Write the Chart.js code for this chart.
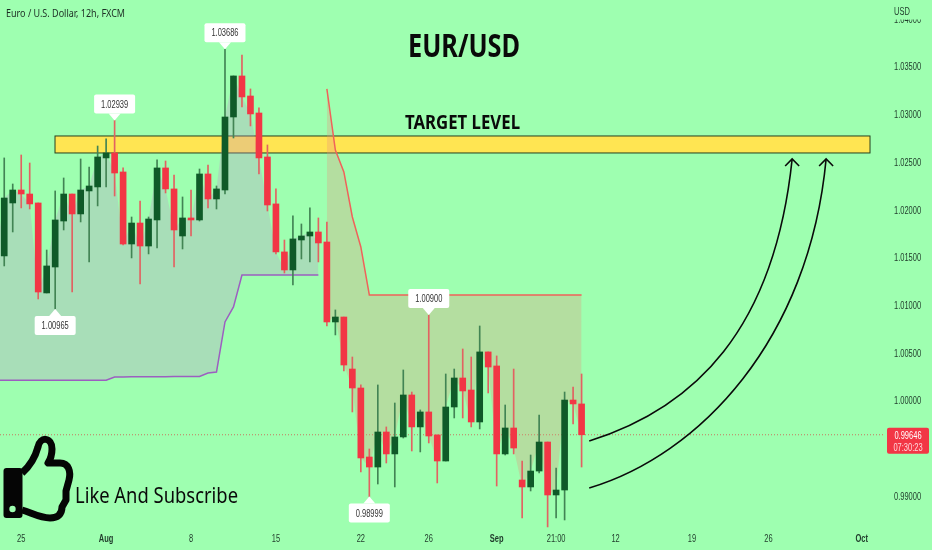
<!DOCTYPE html>
<html>
<head>
<meta charset="utf-8">
<title>EUR/USD</title>
<script src="https://cdn.jsdelivr.net/npm/chart.js@4/dist/chart.umd.min.js"></script>
<style>
  html, body { margin: 0; padding: 0; background: #9effb0; }
  canvas { display: block; }
</style>
</head>
<body>
<canvas id="chart" width="932" height="550"></canvas>
<script>
// candle values, 12h bars. The first bar is just off the left edge.
const opens = [1.02050,1.01520,1.02075,1.02211,1.02169,1.02075,1.01132,1.01404,1.01886,1.02169,1.01960,1.02201,1.02243,1.02547,1.02599,1.02400,1.01645,1.01865,1.01624,1.01897,1.02442,1.02222,1.01729,1.01918,1.01897,1.02379,1.02117,1.02211,1.02976,1.03406,1.03196,1.03018,1.02557,1.02065,1.01562,1.01373,1.01687,1.01729,1.01771,1.01666,1.00828,1.00880,1.00335,1.00136,0.99413,0.99308,0.99675,0.99445,0.99623,1.00063,0.99728,0.99885,0.99644,0.99371,0.99937,1.00241,1.00115,0.99780,1.00514,1.00367,0.99445,0.99717,0.99172,0.99099,0.99266,0.99570,0.99015,0.99067,1.00010,0.99969];
const highs = [1.02100,1.02547,1.02274,1.02578,1.02494,1.02075,1.01582,1.02201,1.02337,1.02169,1.02536,1.02452,1.02672,1.02746,1.02939,1.02442,1.01928,1.02096,1.01928,1.02526,1.02515,1.02368,1.02138,1.02211,1.02431,1.02473,1.02253,1.03686,1.03406,1.03626,1.03270,1.03071,1.02683,1.02222,1.01687,1.01939,1.01855,1.02023,1.01918,1.01876,1.00954,1.00880,1.00461,1.00168,0.99497,1.00168,0.99728,0.99979,1.00325,1.00094,0.99906,1.00900,0.99644,1.00283,1.00335,1.00545,1.00461,1.00786,1.00514,1.00472,0.99958,1.00335,0.99371,0.99434,0.99853,0.99570,0.99298,1.00094,1.00147,1.00283];
const lows = [1.01450,1.01415,1.01771,1.02023,1.02012,1.01069,1.01132,1.00965,1.01792,1.01142,1.01876,1.01457,1.02044,1.02243,1.02148,1.01635,1.01499,1.01226,1.01541,1.01603,1.02180,1.01404,1.01593,1.01729,1.01886,1.02023,1.02012,1.02169,1.02756,1.03081,1.02882,1.02379,1.01991,1.01541,1.01341,1.01216,1.01488,1.01457,1.01457,1.00786,1.00692,1.00314,0.99885,0.99256,0.98999,0.99130,0.99350,0.99099,0.99612,0.99476,0.99466,0.99560,0.99141,0.99371,0.99822,0.99822,0.99728,0.99707,1.00084,0.99109,0.99434,0.99445,0.98774,0.99057,0.99245,0.98680,0.98774,0.98753,0.99759,0.99308];
const closes = [1.01520,1.02127,1.02211,1.02169,1.02065,1.01142,1.01415,1.01897,1.02169,1.01960,1.02211,1.02253,1.02557,1.02599,1.02389,1.01645,1.01865,1.01624,1.01907,1.02442,1.02222,1.01792,1.01918,1.01897,1.02379,1.02117,1.02222,1.02976,1.03406,1.03186,1.03008,1.02547,1.02054,1.01562,1.01373,1.01698,1.01729,1.01771,1.01656,1.00828,1.00880,1.00377,1.00136,0.99403,0.99308,0.99675,0.99445,0.99623,1.00063,0.99728,0.99885,0.99633,0.99371,0.99937,1.00241,1.00105,0.99780,1.00514,1.00356,0.99445,0.99717,0.99507,0.99099,0.99266,0.99570,0.99015,0.99067,1.00010,0.99969,0.99646];

// indicator lines, each starts at the bar given by its start index
const purpleLine = [1.00217,1.00217,1.00217,1.00217,1.00217,1.00217,1.00217,1.00217,1.00217,1.00217,1.00217,1.00217,1.00217,1.00217,1.00252,1.00252,1.00253,1.00253,1.00254,1.00255,1.00255,1.00256,1.00256,1.00257,1.00257,1.00293,1.00304,1.00828,1.00985,1.01320,1.01320,1.01320,1.01320,1.01320,1.01320,1.01320,1.01320,1.01320,1.01320];
const redLineStart = 39;
const redLine = [1.03270,1.02630,1.02400,1.01928,1.01614,1.01111,1.01111,1.01111,1.01111,1.01111,1.01111,1.01111,1.01111,1.01111,1.01111,1.01111,1.01111,1.01111,1.01111,1.01111,1.01111,1.01111,1.01111,1.01111,1.01111,1.01111,1.01111,1.01111,1.01111,1.01111,1.01111];

// x axis: one slot per bar, including the empty ones to the right
const slotCount = 105;
const xTickIndex = [3, 13, 23, 33, 43, 51, 59, 66, 73, 82, 91, 102];
const xTickText = ['25', 'Aug', '8', '15', '22', '26', 'Sep', '21:00', '12', '19', '26', 'Oct'];
const boldTicks = ['Aug', 'Sep', 'Oct'];
const priceTicks = [0.99, 0.995, 1.0, 1.005, 1.01, 1.015, 1.02, 1.025, 1.03, 1.035, 1.04];

const lastPrice = 0.99646;
const countdown = '07:30:23';

// target zone
const zoneTop = 1.02777;
const zoneBottom = 1.02599;
const zoneFrom = 6.98;
const zoneTo = 102.97;

// high/low callouts: bar index, price, above (1) or below (-1) the wick
const calloutBars = [27, 14, 7, 51, 44];
const calloutPrices = [1.03686, 1.02939, 1.00965, 1.00900, 0.98999];
const calloutSides = [1, 1, -1, 1, -1];

// arrows as cubic curves, bar index / price
const arrowOneX = [69.9, 82.3, 91.7, 93.8];
const arrowOneY = [0.99581, 0.99927, 1.00744, 1.02536];
const arrowTwoX = [69.9, 82.9, 95.8, 97.8];
const arrowTwoY = [0.99088, 0.99434, 1.00639, 1.02536];

const BG = '#9effb0';
const RED = '#f23645';
const GREEN = '#0f5a28';
const AXIS_FONT = '"Liberation Sans", sans-serif';
const AXIS_COLOR = '#1f3a2a';
const SQUEEZE = 0.75; // the reference axis type is narrower than anything installed

const labels = [];
for (let i = 0; i < slotCount; i++) {
  const at = xTickIndex.indexOf(i);
  labels.push(at >= 0 ? xTickText[at] : '');
}

const isUp = closes.map((c, i) => c >= opens[i]);
const closesLeft = closes.slice(0, purpleLine.length);
const closesRight = closes.map((c, i) => (i >= redLineStart ? c : null));
const redData = closes.map((c, i) => (i >= redLineStart ? redLine[i - redLineStart] : null));

function text(ctx, str, x, y, font, color, maxWidth, align) {
  ctx.font = font;
  ctx.fillStyle = color;
  ctx.textAlign = align || 'left';
  ctx.textBaseline = 'alphabetic';
  ctx.fillText(str, x, y, maxWidth);
}

function narrowText(ctx, str, x, y, font, color, align) {
  ctx.font = font;
  text(ctx, str, x, y, font, color, ctx.measureText(str).width * SQUEEZE, align);
}

function drawAxisLabels(ctx, sx, sy) {
  priceTicks.forEach(v => {
    narrowText(ctx, v.toFixed(5), 894, sy.getPixelForValue(v) + 3.5, '10px ' + AXIS_FONT, AXIS_COLOR);
  });
  xTickIndex.forEach((idx, i) => {
    const weight = boldTicks.includes(xTickText[i]) ? 'bold ' : '';
    narrowText(ctx, xTickText[i], sx.getPixelForValue(idx), 542, weight + '10px ' + AXIS_FONT, AXIS_COLOR, 'center');
  });
}

function drawArrow(ctx, xs, ys, sx, sy) {
  const px = xs.map(v => sx.getPixelForValue(v));
  const py = ys.map(v => sy.getPixelForValue(v));
  ctx.strokeStyle = '#0a0a0a';
  ctx.lineWidth = 1.6;
  ctx.beginPath();
  ctx.moveTo(px[0], py[0]);
  ctx.bezierCurveTo(px[1], py[1], px[2], py[2], px[3], py[3]);
  ctx.stroke();
  ctx.beginPath();
  ctx.moveTo(px[3] - 7, py[3] + 7);
  ctx.lineTo(px[3], py[3]);
  ctx.lineTo(px[3] + 7, py[3] + 7);
  ctx.stroke();
}

function drawCallout(ctx, x, y, side, value) {
  const w = 41, h = 19, gap = 7;
  const top = side > 0 ? y - gap - h : y + gap;
  const edge = side > 0 ? top + h : top;
  ctx.fillStyle = '#ffffff';
  ctx.beginPath();
  ctx.roundRect(x - w / 2, top, w, h, 2);
  ctx.fill();
  ctx.beginPath();
  ctx.moveTo(x - 6, edge);
  ctx.lineTo(x, y);
  ctx.lineTo(x + 6, edge);
  ctx.fill();
  narrowText(ctx, value.toFixed(5), x, top + 13, '10px ' + AXIS_FONT, '#333333', 'center');
}

function drawThumb(ctx) {
  ctx.fillStyle = '#050505';
  ctx.beginPath();
  ctx.roundRect(3.5, 468, 19, 50, 3);
  ctx.fill();
  ctx.fillStyle = BG;
  ctx.beginPath();
  ctx.arc(12.5, 509, 3.2, 0, Math.PI * 2);
  ctx.fill();
  ctx.strokeStyle = '#050505';
  ctx.lineWidth = 7;
  ctx.lineJoin = 'round';
  ctx.beginPath();
  ctx.moveTo(22, 473);
  ctx.bezierCurveTo(30, 466, 35, 458, 38, 447);
  ctx.bezierCurveTo(40, 436, 52, 437, 52, 449);
  ctx.bezierCurveTo(52, 455, 50, 460, 48, 463);
  ctx.lineTo(60, 463);
  ctx.bezierCurveTo(69, 463, 71, 472, 69, 480);
  ctx.lineTo(66, 491);
  ctx.lineTo(66, 500);
  ctx.lineTo(62, 507);
  ctx.bezierCurveTo(62, 514, 58, 518, 50, 518);
  ctx.bezierCurveTo(40, 518, 32, 513, 22, 510);
  ctx.stroke();
}

const drawings = {
  id: 'drawings',
  afterLayout(chart) {
    // one bar hangs off the left edge so the shading reaches the border
    const x = chart.scales.x;
    x.left = -8.5;
    x.width = x.right - x.left;
    x.configure();
    chart.chartArea.left = -8.5;
    chart.chartArea.width = chart.chartArea.right + 8.5;
  },
  beforeDraw(chart) {
    const { ctx, scales: { x, y } } = chart;
    ctx.save();
    // last price dotted line
    const py = y.getPixelForValue(lastPrice);
    ctx.strokeStyle = 'rgba(205,95,80,0.85)';
    ctx.lineWidth = 1;
    ctx.setLineDash([1, 2]);
    ctx.beginPath();
    ctx.moveTo(0, py);
    ctx.lineTo(x.right, py);
    ctx.stroke();
    ctx.setLineDash([]);
    // target zone sits under the shaded areas and candles
    const zx = x.getPixelForValue(zoneFrom);
    const zy = y.getPixelForValue(zoneTop);
    const zw = x.getPixelForValue(zoneTo) - zx;
    const zh = y.getPixelForValue(zoneBottom) - zy;
    ctx.fillStyle = '#ffe552';
    ctx.fillRect(zx, zy, zw, zh);
    ctx.strokeStyle = '#26401f';
    ctx.strokeRect(zx, zy, zw, zh);
    ctx.restore();
  },
  afterDraw(chart) {
    const { ctx, scales: { x, y } } = chart;
    ctx.save();
    drawAxisLabels(ctx, x, y);
    drawArrow(ctx, arrowOneX, arrowOneY, x, y);
    drawArrow(ctx, arrowTwoX, arrowTwoY, x, y);
    calloutBars.forEach((bar, i) => {
      drawCallout(ctx, x.getPixelForValue(bar), y.getPixelForValue(calloutPrices[i]), calloutSides[i], calloutPrices[i]);
    });
    drawThumb(ctx);

    text(ctx, 'EUR/USD', 464, 57, 'bold 32px "Noto Sans"', '#0a0a0a', 112, 'center');
    text(ctx, 'TARGET LEVEL', 462.5, 129, 'bold 19px "Noto Sans"', '#0a0a0a', 115, 'center');
    text(ctx, 'Like And Subscribe', 75, 503, '22px "Noto Sans"', '#0a0a0a', 163);
    text(ctx, 'Euro / U.S. Dollar, 12h, FXCM', 6, 17, '11px "Noto Sans"', '#1d2d24', 119);

    // the top tick is half hidden under the currency label
    ctx.fillStyle = BG;
    ctx.fillRect(885, 0, 47, 19.5);
    narrowText(ctx, 'USD', 894, 15, '10px ' + AXIS_FONT, AXIS_COLOR);

    // last price tag
    const py = y.getPixelForValue(lastPrice);
    ctx.fillStyle = RED;
    ctx.beginPath();
    ctx.roundRect(887, py - 7, 42, 26, 2);
    ctx.fill();
    narrowText(ctx, lastPrice.toFixed(5), 908, py + 4, '10px ' + AXIS_FONT, '#ffffff', 'center');
    narrowText(ctx, countdown, 908, py + 16, '10px ' + AXIS_FONT, '#ffd9dd', 'center');
    ctx.restore();
  }
};

new Chart(document.getElementById('chart'), {
  data: {
    labels: labels,
    datasets: [
      // 0: close line, only there to bound the shaded area
      { type: 'line', data: closesLeft, borderWidth: 0, pointRadius: 0, tension: 0, order: 5, fill: false },
      // 1: purple indicator, shaded up to the closes
      { type: 'line', data: purpleLine, borderColor: '#9c5fc0', borderWidth: 1.5, pointRadius: 0, tension: 0, order: 3,
        fill: { target: 0, above: 'rgba(191,145,203,0.3)', below: 'rgba(191,145,203,0.3)' } },
      // 2: close line for the right hand part
      { type: 'line', data: closesRight, borderWidth: 0, pointRadius: 0, tension: 0, order: 5, fill: false },
      // 3: red indicator, shaded down to the closes
      { type: 'line', data: redData, borderColor: '#f0625a', borderWidth: 1.5, pointRadius: 0, tension: 0, order: 3,
        fill: { target: 2, above: 'rgba(231,145,123,0.3)', below: 'rgba(231,145,123,0.3)' } },
      // 4: wicks
      { type: 'bar', data: highs.map((h, i) => [lows[i], h]), barThickness: 1, grouped: false, order: 2,
        backgroundColor: isUp.map(u => (u ? 'rgb(66,132,84)' : 'rgb(226,98,98)')) },
      // 5: bodies
      { type: 'bar', data: opens.map((o, i) => [o, closes[i]]), barThickness: 6, grouped: false, order: 1,
        backgroundColor: isUp.map(u => (u ? GREEN : RED)) }
    ]
  },
  options: {
    responsive: false,
    animation: false,
    plugins: {
      legend: { display: false },
      tooltip: { enabled: false },
      filler: { drawTime: 'beforeDatasetsDraw' }
    },
    scales: {
      x: {
        grid: { display: false, drawTicks: false },
        border: { display: false },
        ticks: { display: false },
        afterFit(scale) {
          scale.height = 20;
          scale.paddingLeft = 0;
          scale.paddingRight = 0;
        }
      },
      y: {
        position: 'right',
        min: 0.98648,
        max: 1.04202,
        grid: { display: false, drawTicks: false },
        border: { display: false },
        ticks: { display: false },
        afterFit(scale) {
          scale.width = 49;
          scale.paddingTop = 0;
          scale.paddingBottom = 0;
        }
      }
    }
  },
  plugins: [drawings]
});
</script>
</body>
</html>
